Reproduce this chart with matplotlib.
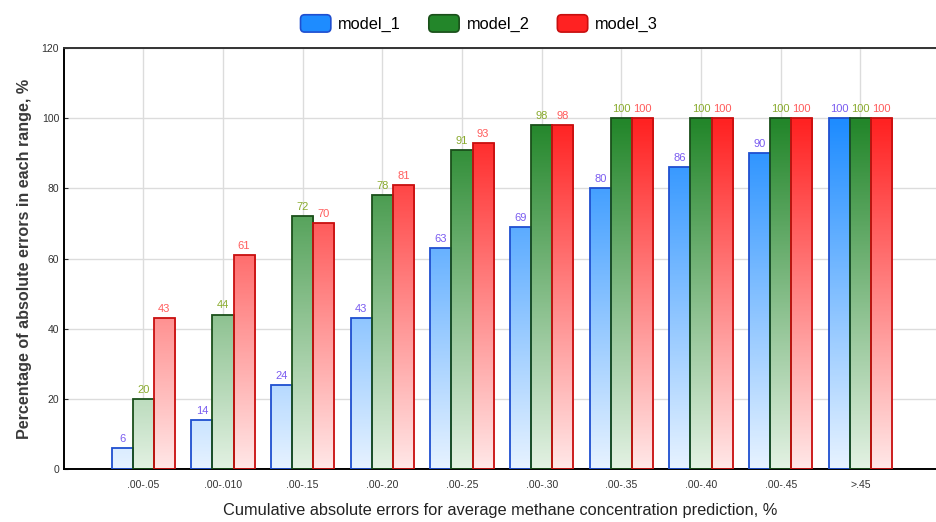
import numpy as np
import matplotlib
matplotlib.use('Agg')
from matplotlib import pyplot as plt
from matplotlib.colors import LinearSegmentedColormap
from matplotlib.patches import Patch, FancyBboxPatch
from matplotlib.legend_handler import HandlerPatch

categories = ['.00-.05', '.00-.010', '.00-.15', '.00-.20', '.00-.25',
              '.00-.30', '.00-.35', '.00-.40', '.00-.45', '>.45']
model_1 = [6, 14, 24, 43, 63, 69, 80, 86, 90, 100]
model_2 = [20, 44, 72, 78, 91, 98, 100, 100, 100, 100]
model_3 = [43, 61, 70, 81, 93, 98, 100, 100, 100, 100]
series_names = ['model_1', 'model_2', 'model_3']

# light (value 0) -> saturated (value 100), edge colour, label colour
styles = [
    ('#e6f2ff', '#1e8cff', '#1f4fd0', '#7a5cf0'),
    ('#e2f1e2', '#23862a', '#1a4f1a', '#8aab2e'),
    ('#ffe6e6', '#ff2222', '#c80f0f', '#ff5c5c'),
]

plt.rcParams['font.family'] = ['Liberation Sans', 'DejaVu Sans']


class RoundHandler(HandlerPatch):
    def create_artists(self, legend, orig_handle, xdescent, ydescent,
                       width, height, fontsize, trans):
        p = FancyBboxPatch((-xdescent + 1.5, -ydescent + 1.5), width - 3, height - 3,
                           boxstyle='round,pad=1.5,rounding_size=3',
                           facecolor=orig_handle.get_facecolor(),
                           edgecolor=orig_handle.get_edgecolor(), linewidth=1.2,
                           transform=trans)
        return [p]


fig = plt.figure(figsize=(9.36, 5.22), dpi=100)
ax = fig.add_axes([0.0684, 0.1015, 0.9316, 0.8065])

x = np.arange(len(categories))
w = 0.265
data = [model_1, model_2, model_3]

for i, vals in enumerate(data):
    light, dark, edge, lab = styles[i]
    cmap = LinearSegmentedColormap.from_list('g%d' % i, [light, dark])
    offs = (i - 1) * w
    bars = ax.bar(x + offs, vals, width=w, facecolor='none', edgecolor=edge,
                  linewidth=1.3, zorder=3)
    for b, v in zip(bars, vals):
        x0 = b.get_x()
        grad = np.linspace(0, v / 100.0, 64).reshape(-1, 1)
        im = ax.imshow(grad, cmap=cmap, vmin=0, vmax=1, origin='lower',
                       extent=[x0, x0 + w, 0, v], aspect='auto', zorder=2,
                       interpolation='bilinear')
        im.set_clip_path(b)
        ax.text(x0 + w / 2, v + 1.2, str(v), ha='center', va='bottom',
                fontsize=8, color=lab, zorder=4)

ax.set_xlim(-0.995, 9.95)
ax.set_ylim(0, 120)
ax.set_yticks(np.arange(0, 121, 20))
ax.set_xticks(x)
ax.set_xticklabels(categories, fontsize=7.5, color='#333333')
ax.tick_params(axis='y', labelsize=7.5, colors='#333333', direction='in', length=3)
ax.tick_params(axis='x', direction='in', length=3, pad=8)
ax.grid(True, color='#dcdcdc', linewidth=1.0, zorder=0)
ax.set_axisbelow(True)

ax.spines['right'].set_visible(False)
ax.spines['left'].set_linewidth(1.4)
ax.spines['bottom'].set_linewidth(1.4)
ax.spines['top'].set_linewidth(1.4)
ax.spines['top'].set_color('#333333')

ax.set_xlabel('Cumulative absolute errors for average methane concentration prediction, %',
              fontsize=11.8, color='#222222', labelpad=9)
ax.set_ylabel('Percentage of absolute errors in each range, %', fontsize=11.6,
              fontweight='bold', color='#3a3a3a', labelpad=7)

handles = [Patch(facecolor=s[1], edgecolor=s[2], linewidth=1.2) for s in styles]
fig.legend(handles, series_names, loc='upper center', bbox_to_anchor=(0.512, 1.0),
           ncol=3, frameon=False, fontsize=11.8, handlelength=1.85, handleheight=1.25,
           columnspacing=1.7, handletextpad=0.45,
           handler_map={Patch: RoundHandler()})

plt.savefig('out.png', dpi=100)
